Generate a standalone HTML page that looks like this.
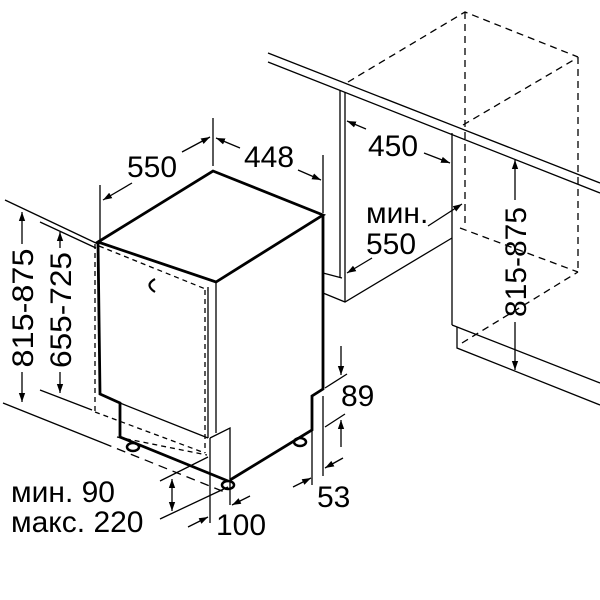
<!DOCTYPE html>
<html><head><meta charset="utf-8"><style>
html,body{margin:0;padding:0;background:#fff;}
svg{display:block;}
text{font-family:"Liberation Sans",sans-serif;font-size:30px;fill:#000;}
</style></head><body>
<svg width="600" height="600" viewBox="0 0 600 600" xmlns="http://www.w3.org/2000/svg">
<defs>
<marker id="a" viewBox="0 0 10 10" refX="10" refY="5" markerWidth="9" markerHeight="9" orient="auto-start-reverse" markerUnits="userSpaceOnUse"><path d="M0,1.5 L10,5 L0,8.5 z" fill="#000"/></marker>
</defs>
<g stroke="#000" fill="none" stroke-width="1.3">
<line x1="268" y1="53" x2="600" y2="183"/>
<line x1="268" y1="62" x2="600" y2="193"/>
<line x1="340" y1="90" x2="340" y2="278"/>
<line x1="345" y1="92" x2="345" y2="302"/>
<polyline points="323,273 342,278"/>
<polyline points="323,293 345,302 452,238"/>
<line x1="452" y1="133" x2="452" y2="325"/>
<line x1="452" y1="325" x2="600" y2="383"/>
<polyline points="457,327 457,348 600,405"/>
<g stroke-dasharray="7,5">
<polyline points="348,82 465,12 578,57"/>
<line x1="465" y1="12" x2="465" y2="228"/>
<line x1="578" y1="57" x2="578" y2="272"/>
<line x1="460" y1="228" x2="578" y2="272"/>
<line x1="463" y1="125" x2="577" y2="58"/>
<line x1="462" y1="343" x2="578" y2="272"/>
</g>
<line x1="347" y1="121" x2="366" y2="129" marker-start="url(#a)"/>
<line x1="424" y1="153" x2="450" y2="163" marker-end="url(#a)"/>
<line x1="428" y1="226" x2="462" y2="204" marker-end="url(#a)"/>
<line x1="372" y1="258" x2="347" y2="273" marker-end="url(#a)"/>
<line x1="515" y1="200" x2="515" y2="160" marker-end="url(#a)"/>
<line x1="515" y1="322" x2="515" y2="370" marker-end="url(#a)"/>
</g>
<g stroke="#000" fill="none" stroke-width="2.8" stroke-linejoin="miter">
<polygon points="98,242 213,171 323,215 216,282"/>
<polyline points="323,215 323,389 312,396 312,430 230,480"/>
<polyline points="98,242 100,394 120,403 120,437 228,481"/>
</g>
<g stroke="#000" fill="none" stroke-width="1.3">
<line x1="208" y1="287" x2="208" y2="438"/>
<line x1="216" y1="282" x2="216" y2="433"/>
<line x1="120" y1="403" x2="208" y2="438"/>
<polyline points="210,438 230,428 230,505"/>
<line x1="210" y1="438" x2="210" y2="523"/>
<g stroke-dasharray="5,4">
<line x1="95" y1="244" x2="95" y2="412"/>
<line x1="99" y1="246" x2="208" y2="290"/>
<line x1="205" y1="290" x2="205" y2="453"/>
<line x1="95" y1="412" x2="205" y2="453"/>
<line x1="117" y1="437" x2="207" y2="455"/>
<line x1="103" y1="443" x2="227" y2="493" stroke-dasharray="9,6"/>
</g>
<path d="M155,279 Q144,285 155,292" stroke-width="2.2"/>
<ellipse cx="133" cy="447" rx="6" ry="4" stroke-width="2.5"/>
<ellipse cx="228" cy="485" rx="6" ry="4" stroke-width="2.5"/>
<ellipse cx="300" cy="442" rx="6" ry="4" stroke-width="2.5"/>
<line x1="5" y1="200" x2="98" y2="244"/>
<line x1="3" y1="403" x2="103" y2="443"/>
<line x1="40" y1="222" x2="96" y2="248"/>
<line x1="40" y1="390" x2="92" y2="410"/>
<line x1="22" y1="244" x2="22" y2="212" marker-end="url(#a)"/>
<line x1="22" y1="372" x2="22" y2="402" marker-end="url(#a)"/>
<line x1="60" y1="248" x2="60" y2="232" marker-end="url(#a)"/>
<line x1="60" y1="372" x2="60" y2="393" marker-end="url(#a)"/>
<line x1="100" y1="185" x2="100" y2="240"/>
<line x1="213" y1="118" x2="213" y2="166"/>
<line x1="323" y1="155" x2="323" y2="213"/>
<line x1="132" y1="183" x2="103" y2="200" marker-end="url(#a)"/>
<line x1="182" y1="152" x2="210" y2="137" marker-end="url(#a)"/>
<line x1="240" y1="148" x2="216" y2="138" marker-end="url(#a)"/>
<line x1="298" y1="170" x2="321" y2="180" marker-end="url(#a)"/>
<line x1="325" y1="388" x2="347" y2="374"/>
<line x1="325" y1="427" x2="345" y2="414"/>
<line x1="341" y1="346" x2="341" y2="375" marker-end="url(#a)"/>
<line x1="341" y1="447" x2="341" y2="420" marker-end="url(#a)"/>
<line x1="312" y1="430" x2="312" y2="485"/>
<line x1="323" y1="396" x2="323" y2="476"/>
<line x1="293" y1="487" x2="311" y2="478" marker-end="url(#a)"/>
<line x1="343" y1="458" x2="325" y2="468" marker-end="url(#a)"/>
<line x1="160" y1="481" x2="208" y2="457"/>
<line x1="160" y1="519" x2="228" y2="487"/>
<line x1="172" y1="479" x2="172" y2="511" marker-start="url(#a)" marker-end="url(#a)"/>
<line x1="250" y1="496" x2="232" y2="505" marker-end="url(#a)"/>
<line x1="188" y1="527" x2="208" y2="517" marker-end="url(#a)"/>
</g>
<g>
<text x="127" y="177">550</text>
<text x="244" y="167">448</text>
<text x="368" y="156">450</text>
<text x="366" y="223">мин.</text>
<text x="366" y="254">550</text>
<text x="341" y="406">89</text>
<text x="317" y="507">53</text>
<text x="216" y="535">100</text>
<text x="11" y="502">мин. 90</text>
<text x="11" y="532">макс. 220</text>
<text transform="translate(33,308) rotate(-90)" text-anchor="middle" textLength="119" lengthAdjust="spacingAndGlyphs">815-875</text>
<text transform="translate(71,310) rotate(-90)" text-anchor="middle" textLength="116" lengthAdjust="spacingAndGlyphs">655-725</text>
<text transform="translate(526,262) rotate(-90)" text-anchor="middle" textLength="110" lengthAdjust="spacingAndGlyphs">815-875</text>
</g>
</svg>
</body></html>
